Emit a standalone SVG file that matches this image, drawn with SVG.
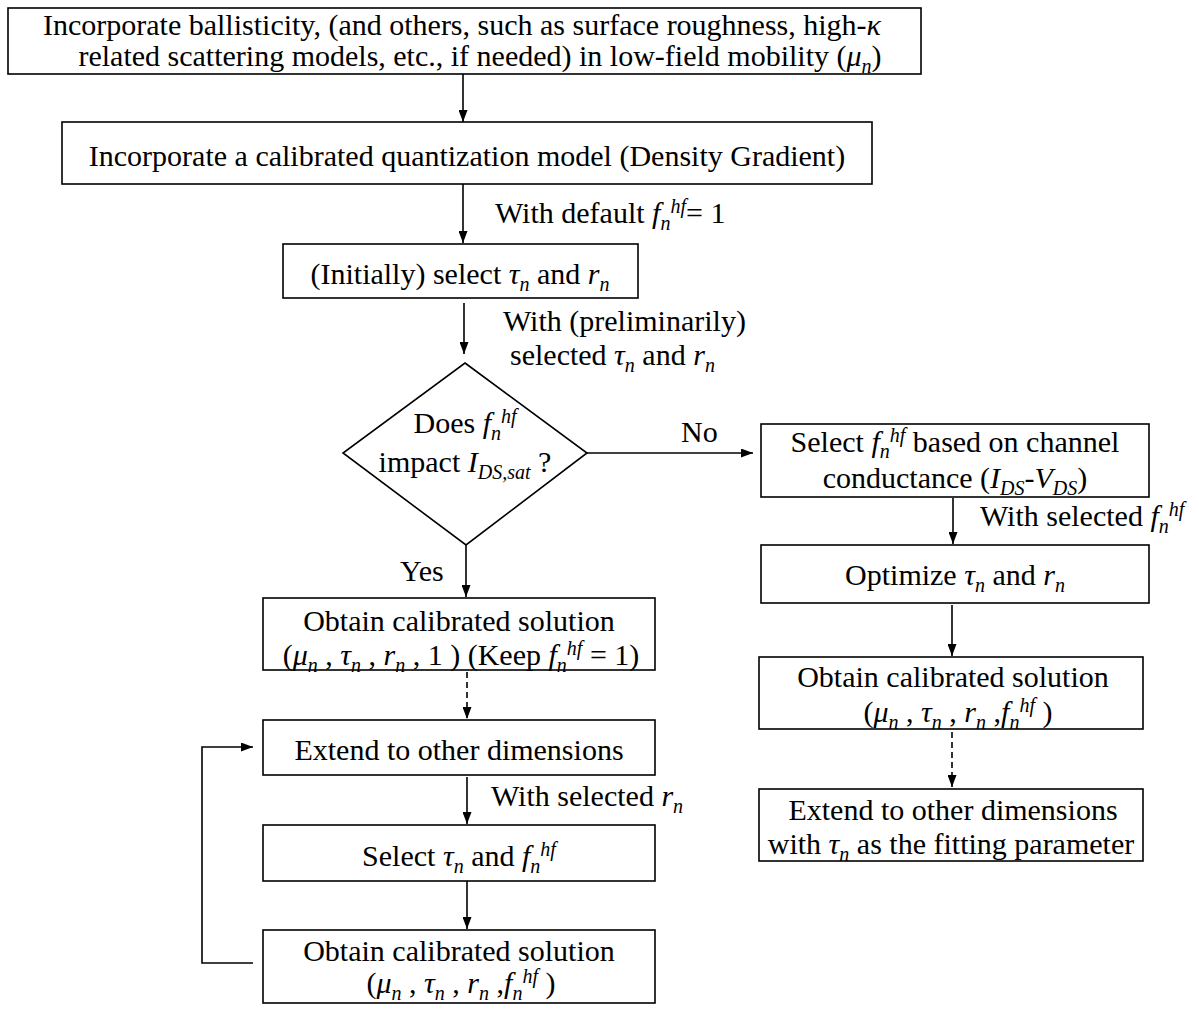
<svg xmlns="http://www.w3.org/2000/svg" width="1199" height="1009" viewBox="0 0 1199 1009">
<style>
.t{font-family:"Liberation Serif","Times New Roman",serif;font-size:30px;fill:#000}
.m{text-anchor:middle}
.i{font-style:italic}
.s{font-style:italic;font-size:20px}
.box{fill:#fff;stroke:#000;stroke-width:1.6}
.ln{fill:none;stroke:#000;stroke-width:1.6}
.dash{stroke-dasharray:6 4}
</style>
<defs>
<marker id="ah" viewBox="0 0 12 9" refX="12" refY="4.5" markerWidth="12" markerHeight="9" markerUnits="userSpaceOnUse" orient="auto">
<path d="M0,0 L12,4.5 L0,9 z" fill="#000"/>
</marker>
</defs>
<rect width="1199" height="1009" fill="#fff"/>

<g id="connectors">
<line class="ln" x1="463" y1="74" x2="463" y2="122" marker-end="url(#ah)"/>
<line class="ln" x1="463" y1="184" x2="463" y2="243" marker-end="url(#ah)"/>
<line class="ln" x1="464" y1="303" x2="464" y2="354" marker-end="url(#ah)"/>
<line class="ln" x1="587" y1="453" x2="753" y2="453" marker-end="url(#ah)"/>
<line class="ln" x1="466" y1="545" x2="466" y2="597" marker-end="url(#ah)"/>
<line class="ln dash" x1="467" y1="672" x2="467" y2="719" marker-end="url(#ah)"/>
<line class="ln" x1="467" y1="777" x2="467" y2="824" marker-end="url(#ah)"/>
<line class="ln" x1="467" y1="881" x2="467" y2="929" marker-end="url(#ah)"/>
<polyline class="ln" points="253,963 202,963 202,747 253,747" marker-end="url(#ah)"/>
<line class="ln" x1="953" y1="498" x2="953" y2="544" marker-end="url(#ah)"/>
<line class="ln" x1="952" y1="605" x2="952" y2="656" marker-end="url(#ah)"/>
<line class="ln dash" x1="952" y1="732" x2="952" y2="787" marker-end="url(#ah)"/>
<text class="t" x="495" y="223">With default <tspan class="i">f</tspan><tspan class="s" dy="7">n</tspan><tspan class="s" dy="-17">hf</tspan><tspan dy="10">= 1</tspan></text>
<text class="t" x="503" y="331">With (preliminarily)</text>
<text class="t" x="510" y="365">selected <tspan class="i">τ</tspan><tspan class="s" dy="7">n</tspan><tspan dy="-7"> and </tspan><tspan class="i">r</tspan><tspan class="s" dy="7">n</tspan></text>
<text class="t" x="681" y="442">No</text>
<text class="t" x="400" y="581">Yes</text>
<text class="t" x="980" y="526">With selected <tspan class="i">f</tspan><tspan class="s" dy="7">n</tspan><tspan class="s" dy="-17">hf</tspan></text>
<text class="t" x="491" y="806">With selected <tspan class="i">r</tspan><tspan class="s" dy="7">n</tspan></text>
</g>

<g id="n1">
<rect class="box" x="8" y="8" width="913" height="66"/>
<text class="t m" x="462" y="35">Incorporate ballisticity, (and others, such as surface roughness, high-<tspan class="i">κ</tspan></text>
<text class="t m" x="480" y="66">related scattering models, etc., if needed) in low-field mobility (<tspan class="i">μ</tspan><tspan class="s" dy="7">n</tspan><tspan dy="-7">)</tspan></text>
</g>

<g id="n2">
<rect class="box" x="62" y="122" width="810" height="62"/>
<text class="t m" x="467" y="166">Incorporate a calibrated quantization model (Density Gradient)</text>
</g>

<g id="n3">
<rect class="box" x="283" y="244" width="355" height="54"/>
<text class="t m" x="460" y="284">(Initially) select <tspan class="i">τ</tspan><tspan class="s" dy="7">n</tspan><tspan dy="-7"> and </tspan><tspan class="i">r</tspan><tspan class="s" dy="7">n</tspan></text>
</g>

<g id="n4">
<polygon class="box" points="465,363 587,453 466,545 343,453"/>
<text class="t m" x="465" y="433">Does <tspan class="i">f</tspan><tspan class="s" dy="7">n</tspan><tspan class="s" dy="-17">hf</tspan></text>
<text class="t m" x="465" y="472">impact <tspan class="i">I</tspan><tspan class="s" dy="7">DS,sat</tspan><tspan dy="-7"> ?</tspan></text>
</g>

<g id="n5">
<rect class="box" x="263" y="598" width="392" height="72"/>
<text class="t m" x="459" y="631">Obtain calibrated solution</text>
<text class="t m" x="461" y="665">(<tspan class="i">μ</tspan><tspan class="s" dy="7">n</tspan><tspan dy="-7"> , </tspan><tspan class="i">τ</tspan><tspan class="s" dy="7">n</tspan><tspan dy="-7"> , </tspan><tspan class="i">r</tspan><tspan class="s" dy="7">n</tspan><tspan dy="-7"> , 1 ) (Keep </tspan><tspan class="i">f</tspan><tspan class="s" dy="7">n</tspan><tspan class="s" dy="-17">hf</tspan><tspan dy="10"> = 1)</tspan></text>
</g>

<g id="n6">
<rect class="box" x="263" y="720" width="392" height="55"/>
<text class="t m" x="459" y="760">Extend to other dimensions</text>
</g>

<g id="n7">
<rect class="box" x="263" y="825" width="392" height="56"/>
<text class="t m" x="459" y="866">Select <tspan class="i">τ</tspan><tspan class="s" dy="7">n</tspan><tspan dy="-7"> and </tspan><tspan class="i">f</tspan><tspan class="s" dy="7">n</tspan><tspan class="s" dy="-17">hf</tspan></text>
</g>

<g id="n8">
<rect class="box" x="263" y="930" width="392" height="73"/>
<text class="t m" x="459" y="961">Obtain calibrated solution</text>
<text class="t m" x="461" y="993">(<tspan class="i">μ</tspan><tspan class="s" dy="7">n</tspan><tspan dy="-7"> , </tspan><tspan class="i">τ</tspan><tspan class="s" dy="7">n</tspan><tspan dy="-7"> , </tspan><tspan class="i">r</tspan><tspan class="s" dy="7">n</tspan><tspan dy="-7"> ,</tspan><tspan class="i">f</tspan><tspan class="s" dy="7">n</tspan><tspan class="s" dy="-17">hf</tspan><tspan dy="10"> )</tspan></text>
</g>

<g id="n9">
<rect class="box" x="761" y="424" width="388" height="73"/>
<text class="t m" x="955" y="452">Select <tspan class="i">f</tspan><tspan class="s" dy="6">n</tspan><tspan class="s" dy="-16">hf</tspan><tspan dy="10"> based on channel</tspan></text>
<text class="t m" x="955" y="488">conductance (<tspan class="i">I</tspan><tspan class="s" dy="7">DS</tspan><tspan dy="-7">-</tspan><tspan class="i">V</tspan><tspan class="s" dy="7">DS</tspan><tspan dy="-7">)</tspan></text>
</g>

<g id="n10">
<rect class="box" x="761" y="545" width="388" height="58"/>
<text class="t m" x="955" y="585">Optimize <tspan class="i">τ</tspan><tspan class="s" dy="7">n</tspan><tspan dy="-7"> and </tspan><tspan class="i">r</tspan><tspan class="s" dy="7">n</tspan></text>
</g>

<g id="n11">
<rect class="box" x="759" y="657" width="384" height="72"/>
<text class="t m" x="953" y="687">Obtain calibrated solution</text>
<text class="t m" x="958" y="722">(<tspan class="i">μ</tspan><tspan class="s" dy="7">n</tspan><tspan dy="-7"> , </tspan><tspan class="i">τ</tspan><tspan class="s" dy="7">n</tspan><tspan dy="-7"> , </tspan><tspan class="i">r</tspan><tspan class="s" dy="7">n</tspan><tspan dy="-7"> ,</tspan><tspan class="i">f</tspan><tspan class="s" dy="7">n</tspan><tspan class="s" dy="-17">hf</tspan><tspan dy="10"> )</tspan></text>
</g>

<g id="n12">
<rect class="box" x="759" y="789" width="384" height="72"/>
<text class="t m" x="953" y="820">Extend to other dimensions</text>
<text class="t m" x="951" y="854">with <tspan class="i">τ</tspan><tspan class="s" dy="7">n</tspan><tspan dy="-7"> as the fitting parameter</tspan></text>
</g>
</svg>
